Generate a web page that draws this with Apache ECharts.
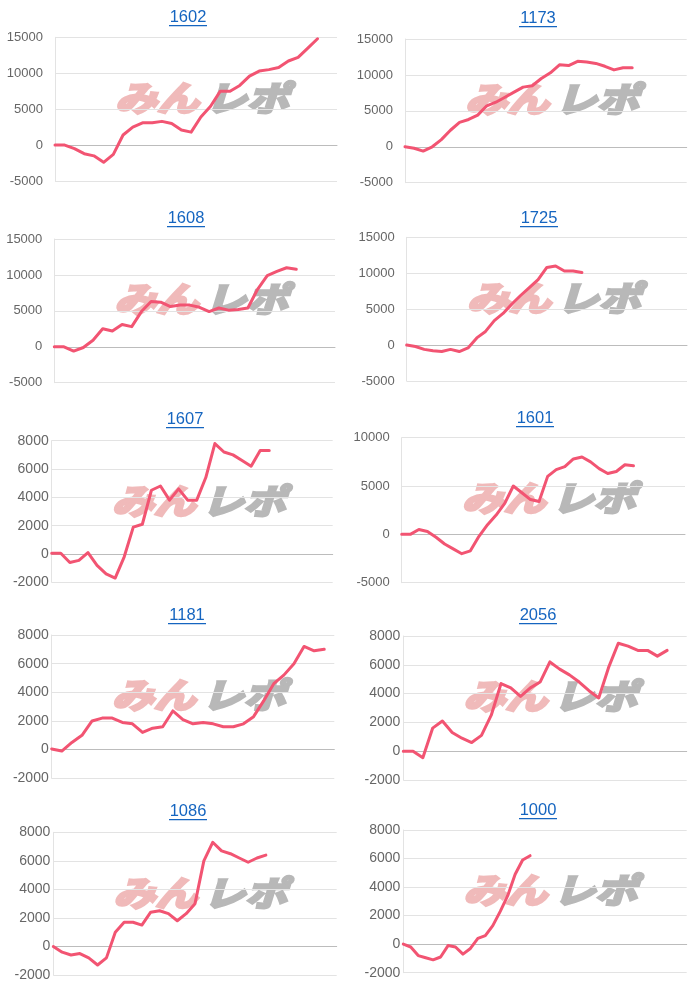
<!DOCTYPE html>
<html>
<head>
<meta charset="utf-8">
<script src="https://cdn.jsdelivr.net/npm/echarts@6/dist/echarts.min.js"></script>
<style>
html,body{margin:0;padding:0;background:#fff;}
#c{width:700px;height:990px;}
</style>
</head>
<body>
<div id="c"></div>
<script>
// ---- data ----
const titles = ['1602','1173','1608','1725','1607','1601','1181','2056','1086','1000'];
const categoryCounts = [30, 32, 30, 33, 32, 34, 29, 30, 33, 39];
const yMins = [-5000, -5000, -5000, -5000, -2000, -5000, -2000, -2000, -2000, -2000];
const yMaxs = [15000, 15000, 15000, 15000, 8000, 10000, 8000, 8000, 8000, 8000];
const yIntervals = [5000, 5000, 5000, 5000, 2000, 5000, 2000, 2000, 2000, 2000];

const v1602 = [0,0,-500,-1200,-1500,-2400,-1300,1400,2500,3100,3100,3300,3000,2100,1800,3900,5400,7500,7500,8300,9600,10300,10500,10800,11700,12200,13500,14800];
const v1173 = [0,-200,-600,0,1000,2300,3400,3800,4400,5700,6200,6900,7600,8300,8500,9500,10300,11400,11300,11900,11800,11600,11200,10700,11000,11000];
const v1608 = [0,0,-600,-100,900,2500,2200,3100,2800,4900,6300,6200,5600,5800,5800,5500,4900,5400,5100,5200,5400,8000,9900,10500,11000,10800];
const v1725 = [0,-200,-600,-800,-900,-600,-900,-400,1000,1900,3400,4400,5700,6900,8000,9100,10800,11000,10300,10300,10100];
const v1607 = [50,50,-600,-450,100,-800,-1400,-1700,-200,1900,2100,4500,4800,3800,4600,3800,3800,5400,7800,7200,7000,6600,6200,7300,7300];
const v1601 = [0,0,500,300,-300,-1000,-1500,-2000,-1700,-200,1000,2000,3200,5000,4300,3600,3400,6000,6700,7000,7800,8000,7500,6800,6300,6500,7200,7100];
const v1181 = [50,-100,500,1000,2000,2200,2200,1900,1800,1200,1500,1600,2700,2100,1800,1900,1800,1600,1600,1800,2300,3400,4600,5200,6000,7200,6900,7000];
const v2056 = [0,0,-450,1600,2100,1300,900,600,1100,2500,4700,4400,3800,4400,4800,6200,5700,5300,4800,4200,3700,5800,7500,7300,7000,7000,6600,7000];
const v1086 = [0,-400,-600,-500,-800,-1300,-800,1000,1700,1700,1500,2400,2500,2300,1800,2300,3000,6000,7300,6700,6500,6200,5900,6200,6400];
const v1000 = [0,-200,-800,-950,-1100,-900,-100,-200,-700,-300,400,600,1300,2300,3400,4900,5900,6200];
const seriesValues = [v1602,v1173,v1608,v1725,v1607,v1601,v1181,v2056,v1086,v1000];

// ---- layout ----
const panels = [
  {l:55,   r:337,   t:37.3,  b:181,   tx:188, ty:18,  m:12},
  {l:405,  r:686.7, t:39,    b:182.7, tx:538, ty:19,  m:12},
  {l:54.3, r:335,   t:239,   b:382.7, tx:186, ty:219, m:12},
  {l:406.7,r:687,   t:237.3, b:381,   tx:539, ty:219, m:12},
  {l:51.7, r:332.7, t:440.7, b:582.3, tx:185, ty:420, m:3},
  {l:401.7,r:685,   t:437.7, b:582.7, tx:535, ty:419, m:12},
  {l:51.7, r:334.3, t:635,   b:778.3, tx:187, ty:616, m:3},
  {l:403.3,r:686.7, t:636,   b:780,   tx:538, ty:616, m:3},
  {l:53.3, r:336.7, t:832.3, b:975,   tx:188, ty:812, m:3},
  {l:403.3,r:686.7, t:830,   b:972.7, tx:538, ty:811, m:3}
];

const LINE = '#f25472';
const WM_FONT = 'italic bold 42px "Noto Sans CJK JP", sans-serif';
const grids = [], xAxes = [], yAxes = [], series = [], graphics = [];
panels.forEach((p, i) => {
  const wide = yMaxs[i] === 8000;
  grids.push({left:p.l, top:p.t, width:p.r - p.l, height:p.b - p.t, containLabel:false});
  const cats = [];
  for (let k = 0; k < categoryCounts[i]; k++) cats.push(String(k + 1));
  xAxes.push({
    type:'category', gridIndex:i, data:cats, boundaryGap:false,
    axisLabel:{show:false}, axisTick:{show:false},
    axisLine:{show:true, onZero:true, lineStyle:{color:'#bcbcbc', width:1}},
    splitLine:{show:false}
  });
  yAxes.push({
    type:'value', gridIndex:i, min:yMins[i], max:yMaxs[i], interval:yIntervals[i],
    axisLabel:{color:'#666', fontSize: wide ? 14 : 13, margin:p.m,
      fontFamily:'"Liberation Sans", Arial, sans-serif',
      formatter:(v) => String(v)},
    axisTick:{show:false},
    axisLine:{show:true, lineStyle:{color:'#e3e3e3'}},
    splitLine:{show:true, lineStyle:{color:'#e3e3e3', width:1}}
  });
  series.push({
    type:'line', xAxisIndex:i, yAxisIndex:i, data:seriesValues[i],
    showSymbol:false, symbol:'none', smooth:false, z:5,
    lineStyle:{color:LINE, width:3, join:'round', cap:'round'},
    animation:false
  });
  // title + underline
  graphics.push({
    type:'text', x:p.tx, y:p.ty - 9, z:10,
    style:{text:titles[i], fill:'#1565c0', font:'16.5px "Liberation Sans", Arial, sans-serif', textAlign:'center', textVerticalAlign:'top'}
  });
  graphics.push({
    type:'rect', shape:{x:p.tx - 19, y:p.ty + 7, width:38, height:1.3}, z:10,
    style:{fill:'#1565c0'}
  });
  // watermark
  graphics.push({
    type:'text', x:p.l + 60, y:p.t + 43, scaleY:0.82, z:0,
    style:{text:'みん', fill:'#f0baba', stroke:'#f0baba', lineWidth:3.5, font:WM_FONT, textVerticalAlign:'top'}
  });
  graphics.push({
    type:'text', x:p.l + 150, y:p.t + 43, scaleY:0.82, z:0,
    style:{text:'レポ', fill:'#b8b8b8', stroke:'#b8b8b8', lineWidth:3.5, font:WM_FONT, textVerticalAlign:'top'}
  });
});

const chart = echarts.init(document.getElementById('c'), null, {renderer:'canvas'});
chart.setOption({
  animation:false,
  backgroundColor:'#ffffff',
  grid:grids, xAxis:xAxes, yAxis:yAxes, series:series,
  graphic:graphics
});
</script>
</body>
</html>
